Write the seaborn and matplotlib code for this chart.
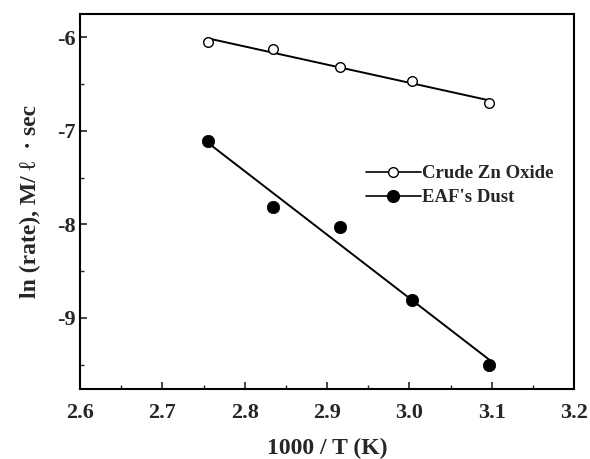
import numpy as np
import pandas as pd
import matplotlib
matplotlib.use("Agg")
import matplotlib.pyplot as plt
from matplotlib.ticker import MultipleLocator
from matplotlib.lines import Line2D
import seaborn as sns

# Arrhenius data: 1000/T versus ln(rate)
inv_T = [2.755, 2.834, 2.916, 3.003, 3.097]
ln_rate_crude = [-6.05, -6.12, -6.32, -6.47, -6.70]
ln_rate_dust = [-7.11, -7.81, -8.03, -8.81, -9.50]
series_names = ["Crude Zn Oxide", "EAF's Dust"]

sns.set_theme(style="white")
plt.rcParams["font.family"] = ["Liberation Serif", "DejaVu Serif"]
plt.rcParams["font.weight"] = "bold"
plt.rcParams["axes.unicode_minus"] = False

df = pd.DataFrame({"x": inv_T, "crude": ln_rate_crude, "dust": ln_rate_dust})

fig = plt.figure(figsize=(5.9, 4.59), dpi=100)
ax = fig.add_axes([0.1356, 0.1525, 0.8374, 0.817])

# fitted lines
sns.regplot(data=df, x="x", y="crude", ci=None, scatter=False, ax=ax,
            line_kws=dict(color="black", lw=1.4))
sns.regplot(data=df, x="x", y="dust", ci=None, scatter=False, ax=ax,
            line_kws=dict(color="black", lw=1.4))

# measured points
sns.scatterplot(data=df, x="x", y="crude", ax=ax, marker="o", s=48,
                facecolor="white", edgecolor="black", linewidth=1.0, zorder=3)
sns.scatterplot(data=df, x="x", y="dust", ax=ax, marker="o", s=80,
                color="black", edgecolor="black", linewidth=0.5, zorder=3)

ax.set_xlim(2.6, 3.2)
ax.set_ylim(-9.76, -5.75)
ax.xaxis.set_major_locator(MultipleLocator(0.1))
ax.xaxis.set_minor_locator(MultipleLocator(0.05))
ax.yaxis.set_major_locator(MultipleLocator(1))
ax.yaxis.set_minor_locator(MultipleLocator(0.5))
ax.set_xticks(ax.get_xticks())
ax.set_xticklabels([f"{v:.1f}" for v in ax.get_xticks()])
ax.set_xlim(2.6, 3.2)
ax.tick_params(axis="both", which="major", direction="in", length=5, width=1.2,
               labelsize=16, bottom=True, left=True, top=False, right=False)
ax.tick_params(axis="x", which="major", pad=10)
ax.tick_params(axis="y", which="major", pad=3)
ax.tick_params(axis="both", which="minor", direction="in", length=3, width=1.0,
               bottom=True, left=True, top=False, right=False)
for lab in ax.get_xticklabels() + ax.get_yticklabels():
    lab.set_fontweight("bold")
for sp in ax.spines.values():
    sp.set_color("black")
    sp.set_linewidth(1.5)
    sp.set_visible(True)

ax.set_xlabel("1000 / T (K)", fontsize=17, fontweight="bold", labelpad=11)
ax.set_ylabel("ln (rate), M/ ℓ  · sec", fontsize=17, fontweight="bold", labelpad=12)

handles = [
    Line2D([], [], color="black", lw=1.2, marker="o", markersize=7,
           markerfacecolor="white", markeredgecolor="black"),
    Line2D([], [], color="black", lw=1.2, marker="o", markersize=8.5,
           markerfacecolor="black", markeredgecolor="black"),
]
ax.legend(handles, series_names, loc="center left", bbox_to_anchor=(0.545, 0.542),
          frameon=False, handlelength=2.9, handletextpad=0.1, labelspacing=0.35,
          prop=dict(family=["Liberation Serif"], weight="bold", size=13.5))

fig.savefig("out.png", dpi=100)
